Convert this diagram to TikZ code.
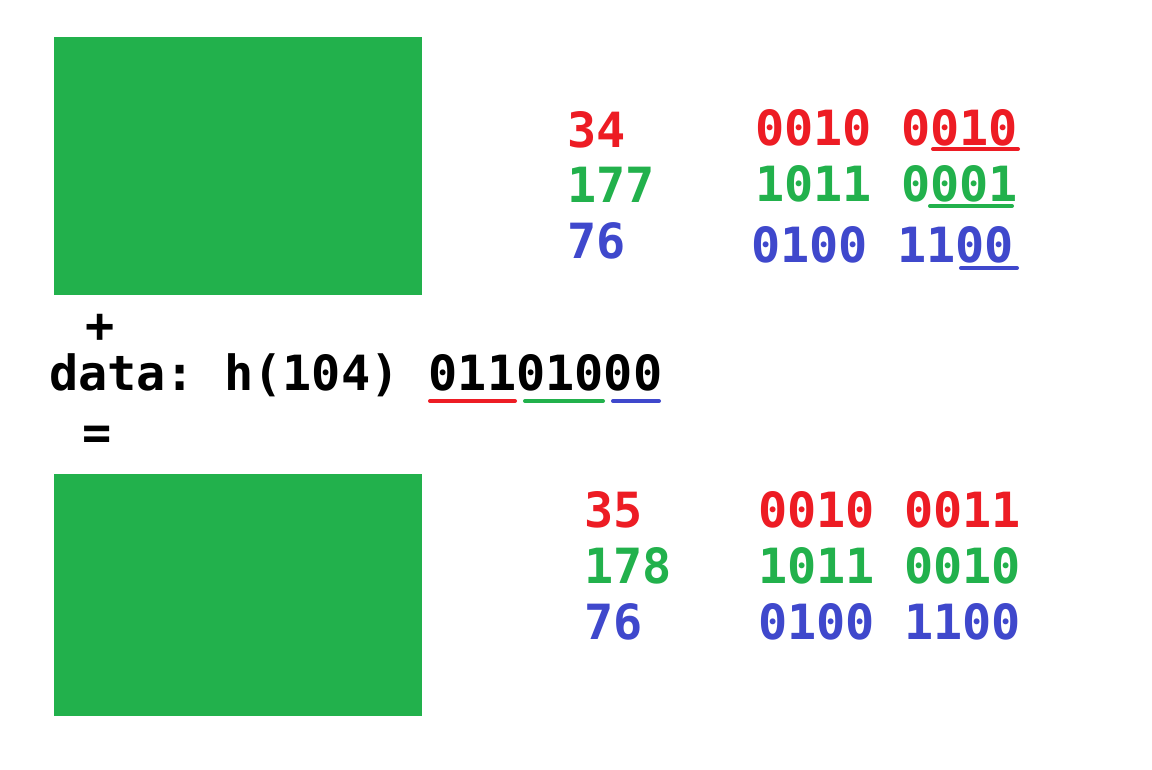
\documentclass[tikz,border=0pt]{standalone}
\usepackage{fontspec}
\setmonofont{DejaVu Sans Mono}
\definecolor{pred}{HTML}{ED1C24}
\definecolor{pgreen}{HTML}{22B14C}
\definecolor{pblue}{HTML}{3F48CC}
\tikzset{
  txt/.style={anchor=base west, inner sep=0pt, font=\fontsize{48.5}{50}\selectfont\ttfamily\bfseries},
  sym/.style={anchor=center, inner sep=0pt, font=\fontsize{48.5}{50}\selectfont\ttfamily\bfseries},
  uline/.style={line width=4pt, line cap=round},
  block/.style={fill=pgreen, draw=none, anchor=north west, inner sep=0pt}
}
\begin{document}
\begin{tikzpicture}[x=1pt,y=-1pt]
\useasboundingbox (0,0) rectangle (1152,770);
\fill[white] (0,0) rectangle (1152,770);
% green blocks
\node[block, minimum width=368pt, minimum height=258pt] (img1) at (54,37) {};
\node[block, minimum width=368pt, minimum height=242pt] (img2) at (54,474) {};
% top values
\node[txt, text=pred] (a1) at (567,148) {34};
\node[txt, text=pgreen] (a2) at (567,203) {177};
\node[txt, text=pblue] (a3) at (567,259) {76};
\node[txt, text=pred] (b1) at (755,146) {0010 0010};
\node[txt, text=pgreen] (b2) at (755,202) {1011 0001};
\node[txt, text=pblue] (b3) at (751,263) {0100 1100};
\draw[uline, pred] (933,149) -- (1018,149);
\draw[uline, pgreen] (930,206) -- (1012,206);
\draw[uline, pblue] (961,268) -- (1017,268);
% middle
\node[sym] (plus) at (100,328) {+};
\node[txt, text=black] (data) at (49,390) {data: h(104) 01101000};
\node[sym] (eq) at (97,438) {=};
\draw[uline, pred] (430,401) -- (515,401);
\draw[uline, pgreen] (525,401) -- (603,401);
\draw[uline, pblue] (613,401) -- (659,401);
% bottom values
\node[txt, text=pred] (c1) at (584,527) {35};
\node[txt, text=pgreen] (c2) at (584,583) {178};
\node[txt, text=pblue] (c3) at (584,639) {76};
\node[txt, text=pred] (d1) at (758,527) {0010 0011};
\node[txt, text=pgreen] (d2) at (758,583) {1011 0010};
\node[txt, text=pblue] (d3) at (758,639) {0100 1100};
\end{tikzpicture}
\end{document}
